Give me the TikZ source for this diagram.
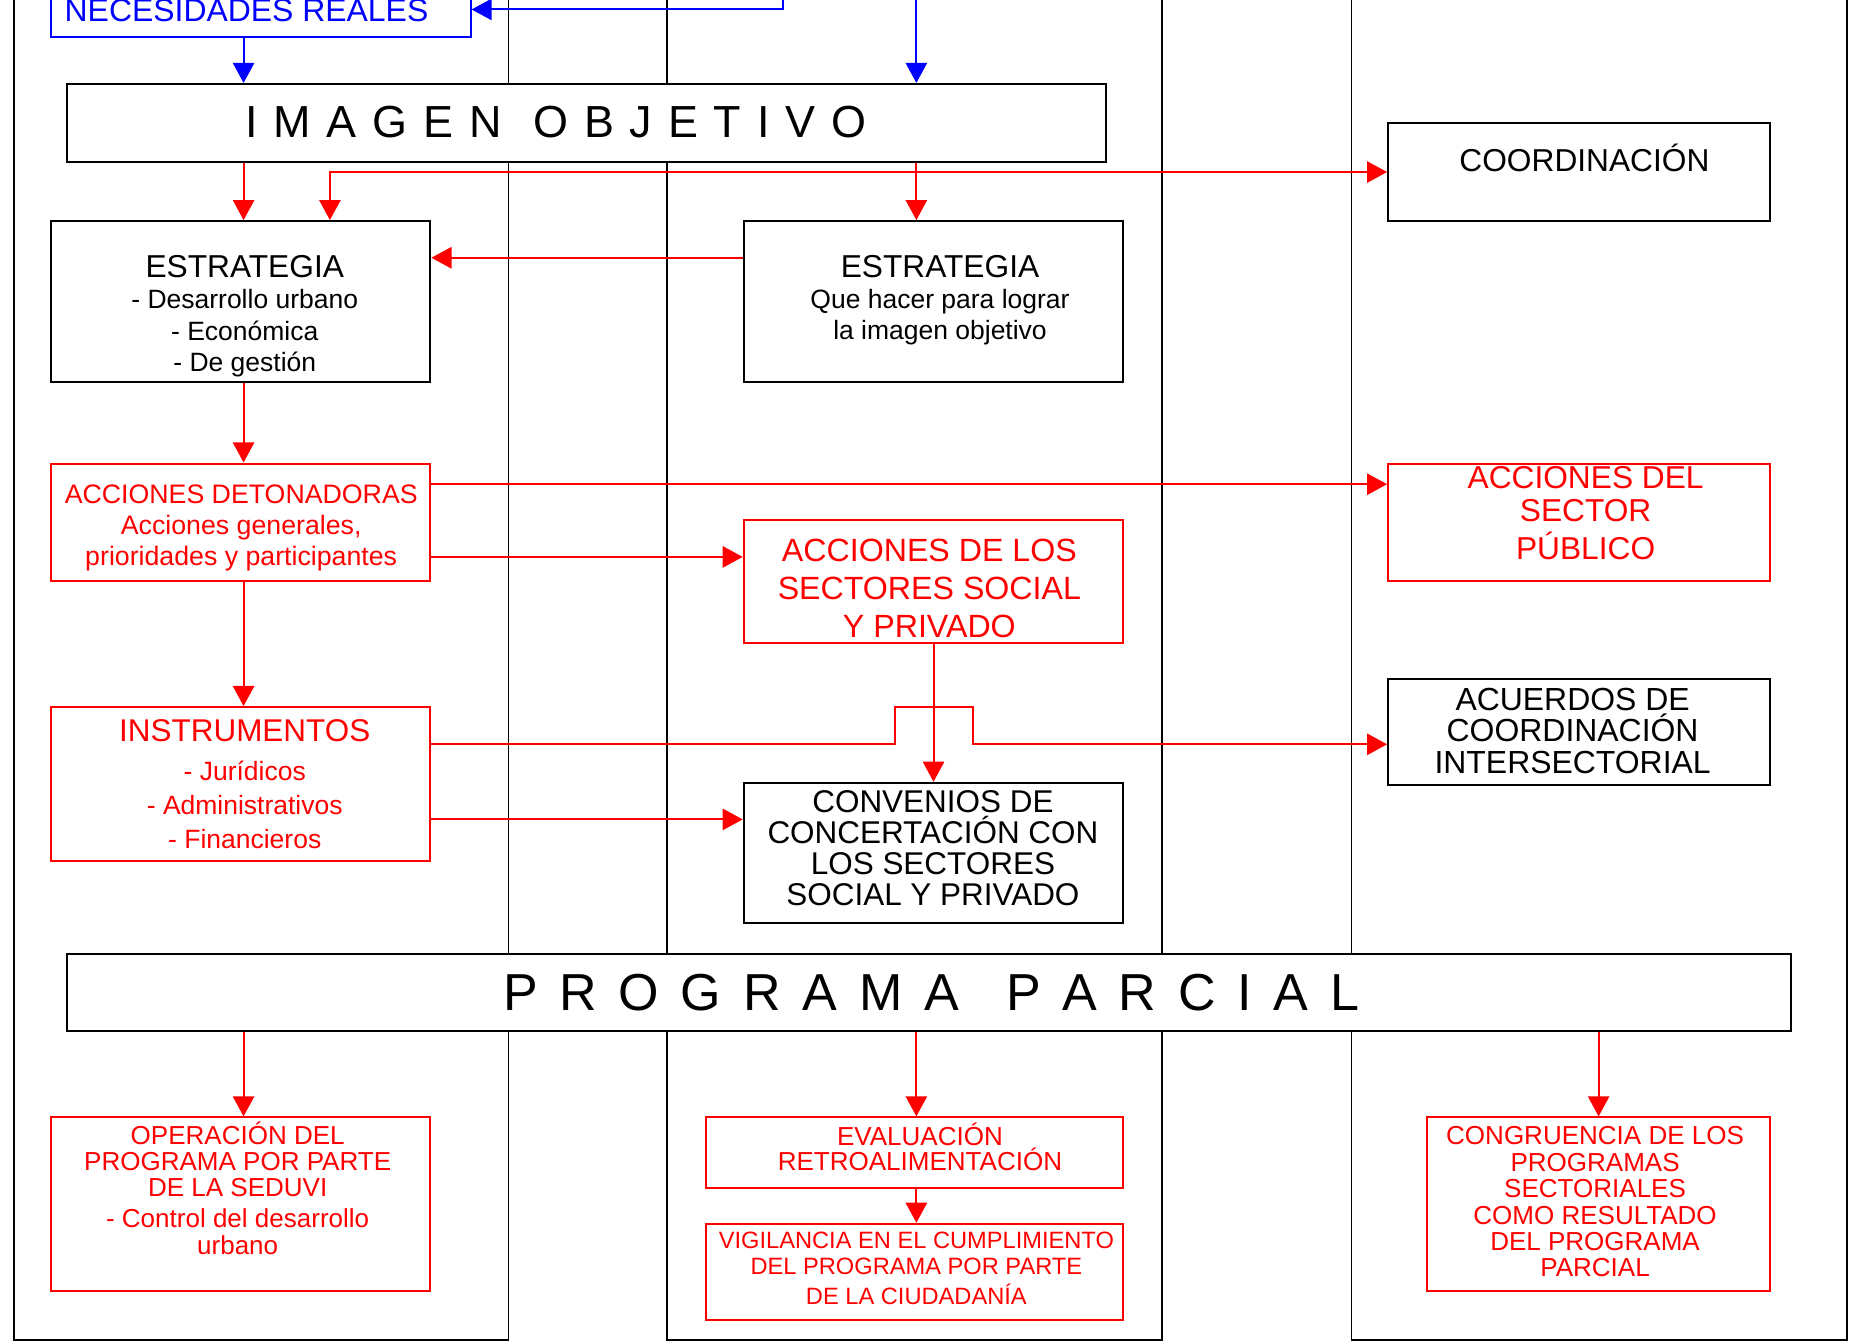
\documentclass[tikz,border=0pt]{standalone}
\usepackage{fontspec}
\setmainfont{Liberation Sans}
\usetikzlibrary{arrows.meta,fit}
\definecolor{rd}{RGB}{255,0,0}
\definecolor{bl}{RGB}{0,0,255}
\newcommand\IOg{\hspace{6.7pt}}
\newcommand\IOw{\hspace{13.4pt}}
\newcommand\PPg{\hspace{9.2pt}}
\newcommand\PPw{\hspace{20pt}}
\newcommand\fsz[2]{\fontsize{#1}{#2}\selectfont}
\begin{document}
\begin{tikzpicture}[x=0.5pt,y=-0.5pt,
  lane/.style={draw=black,line width=0.75pt},
  bbox/.style={draw=black,line width=0.85pt,fill=white,inner sep=0pt,rectangle},
  rbox/.style={draw=rd,line width=0.85pt,fill=white,inner sep=0pt,rectangle},
  blbox/.style={draw=bl,line width=0.85pt,fill=white,inner sep=0pt,rectangle},
  rarr/.style={draw=rd,line width=0.85pt,-{Triangle[length=8.5pt,width=9pt]}},
  rdbl/.style={draw=rd,line width=0.85pt,{Triangle[length=8.5pt,width=9pt]}-{Triangle[length=8.5pt,width=9pt]}},
  barr/.style={draw=bl,line width=0.85pt,-{Triangle[length=8.5pt,width=9pt]}},
  txt/.style={inner sep=0pt,align=center,anchor=base},
]
\useasboundingbox (0,0) rectangle (1568,1135);
\clip (0,0) rectangle (1568,1135);
\fill[white] (0,0) rectangle (1568,1135);

% lanes
\draw[lane] (12,-5) -- (12,1133) -- (430,1133) -- (430,-5);
\draw[lane] (564,-5) -- (564,1133) -- (983,1133) -- (983,-5);
\draw[lane] (1143,-5) -- (1143,1133) -- (1562,1133) -- (1562,-5);

% boxes
\node[blbox,fit={(43,-15) (398,31)}] (nec) {};
\node[bbox,fit={(57,71) (935,137)}] (img) {};
\node[bbox,fit={(1174,104) (1497,187)}] (coord) {};
\node[bbox,fit={(43,187) (364,323)}] (es1) {};
\node[bbox,fit={(629,187) (950,323)}] (es2) {};
\node[rbox,fit={(43,392) (364,491)}] (det) {};
\node[rbox,fit={(629,440) (950,544)}] (soc) {};
\node[rbox,fit={(1174,392) (1497,491)}] (pub) {};
\node[rbox,fit={(43,598) (364,728)}] (inst) {};
\node[bbox,fit={(629,662) (950,781)}] (conv) {};
\node[bbox,fit={(1174,574) (1497,664)}] (acu) {};
\node[bbox,fit={(57,807) (1515,872)}] (prog) {};
\node[rbox,fit={(43,945) (364,1092)}] (oper) {};
\node[rbox,fit={(597,945) (950,1005)}] (eval) {};
\node[rbox,fit={(597,1035) (950,1116)}] (vig) {};
\node[rbox,fit={(1207,945) (1497,1092)}] (cong) {};

% helper coordinates
\coordinate (xA) at (206,0);
\coordinate (xB) at (279,0);
\coordinate (xC) at (775,0);
\coordinate (xD) at (1352,0);
\coordinate (yE) at (0,218);
\coordinate (yP) at (0,409.5);
\coordinate (yS) at (0,471);
\coordinate (yI) at (0,629.5);
\coordinate (yV) at (0,693);
\coordinate (bt1) at (662,-5);
\coordinate (bt2) at (775,-5);
\coordinate (hopL) at (757,598);
\coordinate (hopR) at (823,598);

% connectors
\draw[barr] (xA |- nec.south) -- (xA |- img.north);
\draw[barr] (bt1) |- (nec.east);
\draw[barr] (bt2) -- (bt2 |- img.north);
\draw[rarr] (xA |- img.south) -- (xA |- es1.north);
\draw[rarr] (xC |- img.south) -- (xC |- es2.north);
\draw[rdbl] (xB |- es1.north) |- (coord.west);
\draw[rarr] (es2.west |- yE) -- (es1.east |- yE);
\draw[rarr] (xA |- es1.south) -- (xA |- det.north);
\draw[rarr] (det.east |- yP) -- (pub.west |- yP);
\draw[rarr] (det.east |- yS) -- (soc.west |- yS);
\draw[rarr] (xA |- det.south) -- (xA |- inst.north);
\draw[rarr] (soc.south) -- (conv.north);
\draw[rarr] (inst.east |- yI) -- (hopL |- yI) -- (hopL) -- (hopR) -- (hopR |- yI) -- (acu.west |- yI);
\draw[rarr] (inst.east |- yV) -- (conv.west |- yV);
\draw[rarr] (xA |- prog.south) -- (xA |- oper.north);
\draw[rarr] (xC |- prog.south) -- (xC |- eval.north);
\draw[rarr] (xD |- prog.south) -- (xD |- cong.north);
\draw[rarr] (xC |- eval.south) -- (xC |- vig.north);

% texts (anchor = baseline of the last line)
\node[txt,text=bl,font=\fsz{13.5}{16}] (tnec) at (208.5,18.5) {NECESIDADES REALES};
\node[txt,font=\fsz{19}{20}] (timg) at (470,116) {I\IOg M\IOg A\IOg G\IOg E\IOg N\IOw O\IOg B\IOg J\IOg E\IOg T\IOg I\IOg V\IOg O};
\node[txt,font=\fsz{13.4}{15}] (tcoord) at (1340,145) {COORDINACIÓN};
\node[txt,font=\fsz{11.2}{13.3}] (tes1) at (207,314.3) {{\fsz{13.4}{13.3}ESTRATEGIA}\\- Desarrollo urbano\\- Económica\\- De gestión};
\node[txt,font=\fsz{11.2}{13.3}] (tes2) at (795,287.5) {{\fsz{13.4}{13.3}ESTRATEGIA}\\Que hacer para lograr\\la imagen objetivo};
\node[txt,text=rd,font=\fsz{11.3}{13.05}] (tdet) at (204,478.4) {ACCIONES DETONADORAS\\Acciones generales,\\prioridades y participantes};
\node[txt,text=rd,font=\fsz{13.6}{16}] (tsoc) at (786,539) {ACCIONES DE LOS\\SECTORES SOCIAL\\Y PRIVADO};
\node[txt,text=rd,font=\fsz{13.4}{14.1}] (tpub) at (1341,473.6) {ACCIONES DEL\\SECTOR\\[2.1pt]PÚBLICO};
\node[txt,text=rd,font=\fsz{11.2}{14.3}] (tinst) at (207,717.5) {{\fsz{13.3}{14.3}INSTRUMENTOS}\\[2.2pt]- Jurídicos\\- Administrativos\\- Financieros};
\node[txt,font=\fsz{13.3}{13}] (tconv) at (789,765.4) {CONVENIOS DE\\CONCERTACIÓN CON\\LOS SECTORES\\SOCIAL Y PRIVADO};
\node[txt,font=\fsz{13.5}{13.25}] (tacu) at (1330,654) {ACUERDOS DE\\COORDINACIÓN\\INTERSECTORIAL};
\node[txt,font=\fsz{22}{24}] (tprog) at (787.5,854.8) {P\PPg R\PPg O\PPg G\PPg R\PPg A\PPg M\PPg A\PPw P\PPg A\PPg R\PPg C\PPg I\PPg A\PPg L};
\node[txt,text=rd,font=\fsz{11}{11.1}] (toper) at (201,1060.6) {OPERACIÓN DEL\\PROGRAMA POR PARTE\\DE LA SEDUVI\\[2pt]- Control del desarrollo\\urbano};
\node[txt,text=rd,font=\fsz{11}{10.8}] (teval) at (778,990) {EVALUACIÓN\\RETROALIMENTACIÓN};
\node[txt,text=rd,font=\fsz{10}{10.85}] (tvig) at (775,1102.9) {VIGILANCIA EN EL CUMPLIMIENTO\\DEL PROGRAMA POR PARTE\\[1.8pt]DE LA CIUDADANÍA};
\node[txt,text=rd,font=\fsz{11}{11.15}] (tcong) at (1349,1079.8) {CONGRUENCIA DE LOS\\PROGRAMAS\\SECTORIALES\\COMO RESULTADO\\DEL PROGRAMA\\PARCIAL};
\end{tikzpicture}
\end{document}
